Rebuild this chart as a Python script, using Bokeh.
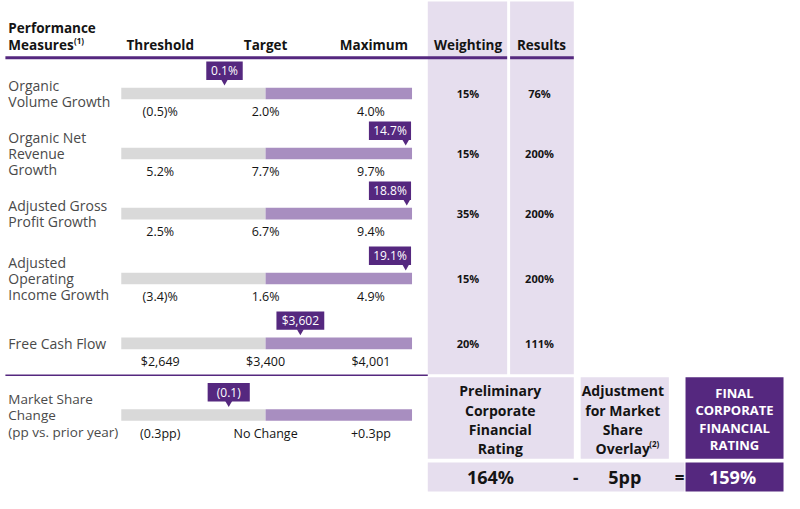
from bokeh.plotting import figure
from bokeh.models import Range1d
from bokeh.core.properties import value
from bokeh.embed import file_html
from bokeh.resources import INLINE

# ---------------- data ----------------
measures = [["Organic", "Volume Growth"],
            ["Organic Net", "Revenue", "Growth"],
            ["Adjusted Gross", "Profit Growth"],
            ["Adjusted", "Operating", "Income Growth"],
            ["Free Cash Flow"]]
thresholds = ["(0.5)%", "5.2%", "2.5%", "(3.4)%", "$2,649"]
targets = ["2.0%", "7.7%", "6.7%", "1.6%", "$3,400"]
maximums = ["4.0%", "9.7%", "9.4%", "4.9%", "$4,001"]
actual_labels = ["0.1%", "14.7%", "18.8%", "19.1%", "$3,602"]
# position of actual result on the bar scale: threshold=0, target=1, maximum=2
actual_pos = [0.61, 2.33, 2.34, 2.33, 1.33]
weightings = ["15%", "15%", "35%", "15%", "20%"]
results = ["76%", "200%", "200%", "200%", "111%"]

ms_label = ["Market Share", "Change", "(pp vs. prior year)"]
ms_ticks = ["(0.3pp)", "No Change", "+0.3pp"]
ms_actual_label = "(0.1)"
ms_actual_pos = 0.65

col_headers = ["Threshold", "Target", "Maximum"]
prelim_title = ["Preliminary", "Corporate", "Financial", "Rating"]
adjust_title = ["Adjustment", "for Market", "Share", "Overlay"]
final_title = ["FINAL", "CORPORATE", "FINANCIAL", "RATING"]
prelim_rating = "164%"
adjustment = "5pp"
final_rating = "159%"

# ---------------- styles ----------------
DARK = "#55287f"
LIGHT = "#e6deee"
BAR_GRAY = "#d9d9d9"
BAR_PURPLE = "#a88ec0"
TXT = "#141414"
LBL = "#4a4a4a"
FONT = value("Open Sans")

p = figure(width=784, height=493, x_range=Range1d(0, 800), y_range=Range1d(509, 0),
           output_backend="svg", toolbar_location=None, min_border=0)
p.axis.visible = False
p.grid.visible = False
p.outline_line_color = None
p.background_fill_color = "white"

def sx(pos):
    return 163 + pos * 107.5

def txt(x, y, t, size, color=TXT, style="normal", align="center", font=FONT):
    p.text(x=[x], y=[y], text=[t], text_font=font, text_font_size=f"{size}px",
           text_color=color, text_font_style=style, text_align=align,
           text_baseline="middle")

# column backgrounds
p.quad(left=[436, 520], right=[517, 585], top=[1, 1], bottom=[386, 386],
       fill_color=LIGHT, line_color=None)

# header
txt(8, 28, "Performance", 13.5, style="bold", align="left")
txt(8, 46, "Measures", 13.5, style="bold", align="left")
txt(75, 41, "(1)", 8, style="bold", align="left")
for i, h in enumerate(col_headers):
    txt(sx(i) + (3 if i == 2 else 0), 46, h, 13.5, style="bold")
txt(477, 46, "Weighting", 13.5, style="bold")
txt(552, 46, "Results", 13.5, style="bold")
p.segment(x0=[5, 520], x1=[517, 585], y0=[59, 59], y1=[59, 59],
          line_color=DARK, line_width=3)

row_y = [96, 158, 220, 287, 354]
bar_l, bar_r = -0.37, 2.39

def draw_row(y, label_lines, ticks, alabel, apos, lab_size=14):
    n = len(label_lines)
    for k, line in enumerate(label_lines):
        txt(8, y + (k - (n - 1) / 2) * 17, line, lab_size, color=LBL, align="left")
    p.quad(left=[sx(bar_l)], right=[sx(1)], top=[y - 6], bottom=[y + 6],
           fill_color=BAR_GRAY, line_color=None)
    p.quad(left=[sx(1)], right=[sx(bar_r)], top=[y - 6], bottom=[y + 6],
           fill_color=BAR_PURPLE, line_color=None)
    for k, t in enumerate(ticks):
        txt(sx(k), y + 19, t, 12.5)
    ptr = sx(apos)
    w = 14 + 5.8 * len(alabel)
    cx = min(ptr, sx(bar_r) - 1 - w / 2)
    p.quad(left=[cx - w / 2], right=[cx + w / 2], top=[y - 33], bottom=[y - 14],
           fill_color=DARK, line_color=None)
    p.scatter(x=[ptr], y=[y - 12.5], marker="inverted_triangle", size=7,
              fill_color=DARK, line_color=None)
    txt(cx, y - 23.5, alabel, 12, color="white")

for i in range(len(measures)):
    y = row_y[i]
    draw_row(y, measures[i], [thresholds[i], targets[i], maximums[i]],
             actual_labels[i], actual_pos[i])
    txt(477, y, weightings[i], 11, style="bold")
    txt(550, y, results[i], 11, style="bold")

# separator
p.segment(x0=[5], x1=[436], y0=[387], y1=[387], line_color=DARK, line_width=1.5)

draw_row(428, ms_label, ms_ticks, ms_actual_label, ms_actual_pos, lab_size=13.5)

# bottom boxes
p.quad(left=[436, 592], right=[585, 682], top=[389, 389], bottom=[473, 473],
       fill_color=LIGHT, line_color=None)
p.quad(left=[699], right=[799], top=[389], bottom=[473], fill_color=DARK, line_color=None)
p.quad(left=[436], right=[698], top=[477], bottom=[507], fill_color=LIGHT, line_color=None)
p.quad(left=[699], right=[799], top=[477], bottom=[507], fill_color=DARK, line_color=None)

for k, line in enumerate(prelim_title):
    txt(510, 403 + k * 20, line, 14, style="bold")
for k, line in enumerate(adjust_title):
    txt(635, 403 + k * 20, line, 14, style="bold")
txt(662, 457, "(2)", 8, style="bold", align="left")
for k, line in enumerate(final_title):
    txt(749, 405 + k * 18, line, 13, color="white", style="bold")

txt(500, 492, prelim_rating, 18, style="bold")
txt(587, 492, "-", 17, style="bold")
txt(637, 492, adjustment, 18, style="bold")
txt(693, 492, "=", 17, style="bold")
txt(747, 492, final_rating, 18, color="white", style="bold")

open("out.html", "w").write(file_html(p, INLINE))
